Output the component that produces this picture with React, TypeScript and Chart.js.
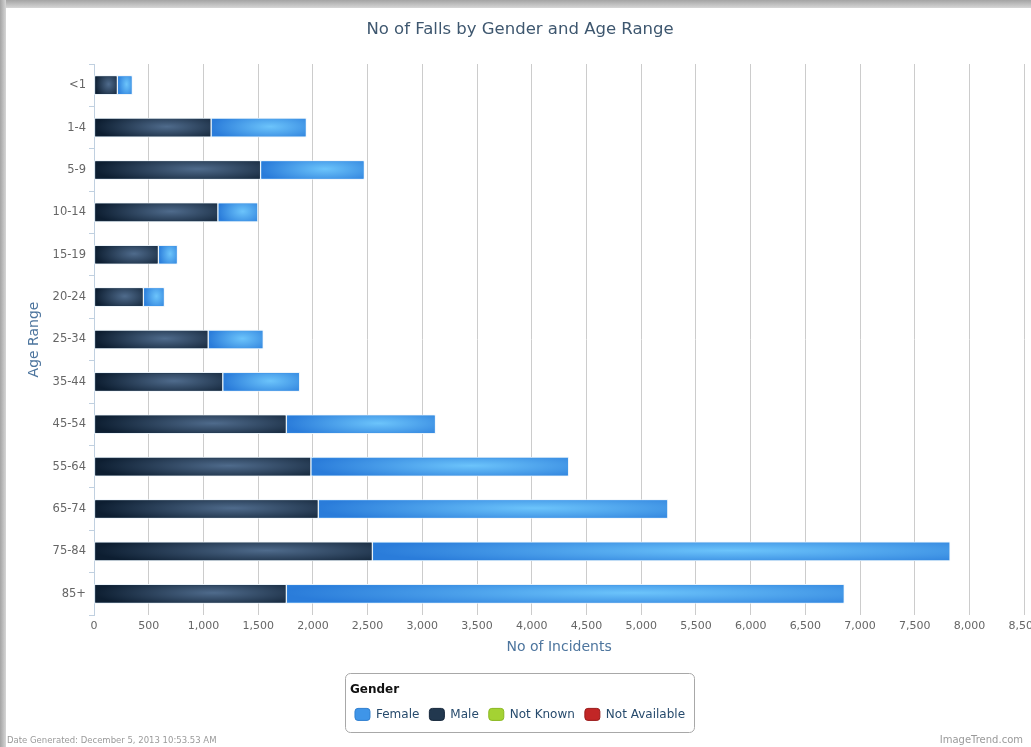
import React, { useEffect, useRef } from "react";
import { Chart, registerables } from "chart.js";

Chart.register(...registerables);

const ageRanges = ["<1", "1-4", "5-9", "10-14", "15-19", "20-24", "25-34", "35-44", "45-54", "55-64", "65-74", "75-84", "85+"];
const maleValues = [213, 1070, 1522, 1132, 588, 451, 1043, 1177, 1757, 1982, 2049, 2543, 1757];
const femaleValues = [137, 870, 948, 365, 174, 192, 503, 702, 1363, 2355, 3194, 5279, 5098];
const notKnownValues: number[] = [];
const notAvailableValues: number[] = [];
const xMax = 8500;
const xStep = 500;

const seriesNames = ["Male", "Female", "Not Known", "Not Available"];
const seriesFill = ["#22384f", "#3f95e8", "#a4d233", "#c22626"];
const seriesSwatchBorder = ["#15263a", "#2f7fd0", "#8ab820", "#9a1a1a"];
const gradientStops: Record<number, [string, string]> = {
  0: ["#4f6b8c", "#0d1e31"],
  1: ["#6cc4fb", "#2a7cda"],
};
const legendOrder = [1, 0, 2, 3];

const barGlowPlugin = {
  id: "barGlow",
  afterDatasetsDraw(chart: any) {
    const ctx = chart.ctx;
    [0, 1].forEach((di) => {
      const meta = chart.getDatasetMeta(di);
      if (!meta || meta.hidden) return;
      const [c0, c1] = gradientStops[di];
      meta.data.forEach((el: any) => {
        const p = el.getProps(["x", "y", "base", "height"], true);
        const l = Math.min(p.x, p.base);
        const r = Math.max(p.x, p.base);
        const w = r - l;
        const h = p.height;
        const t = p.y - h / 2;
        if (w <= 2) return;
        ctx.save();
        ctx.beginPath();
        ctx.rect(l + 1, t + 1, w - 2, h - 2);
        ctx.clip();
        ctx.translate(l + w * 0.62, t + h * 0.45);
        ctx.scale(w * 0.62, h * 0.85);
        const g = ctx.createRadialGradient(0, 0, 0, 0, 0, 1);
        g.addColorStop(0, c0);
        g.addColorStop(1, c1);
        ctx.fillStyle = g;
        ctx.fillRect(-2, -2, 4, 4);
        ctx.restore();
      });
    });
  },
};

const legendFramePlugin = {
  id: "legendFrame",
  afterDraw(chart: any) {
    const lg = chart.legend;
    if (!lg || !lg.legendHitBoxes || !lg.legendHitBoxes.length) return;
    const boxes = lg.legendHitBoxes;
    const first = boxes[0];
    const last = boxes[boxes.length - 1];
    const left = first.left - 10;
    const right = last.left + last.width + 9;
    const titleCenter = lg.top + 28 + 6;
    const top = titleCenter - 17;
    const bottom = first.top + first.height / 2 + 18;
    const ctx = chart.ctx;
    ctx.save();
    ctx.beginPath();
    const rr = 5;
    const x0 = Math.round(left) + 0.5;
    const y0 = Math.round(top) + 0.5;
    const x1 = Math.round(right) + 0.5;
    const y1 = Math.round(bottom) + 0.5;
    ctx.moveTo(x0 + rr, y0);
    ctx.lineTo(x1 - rr, y0);
    ctx.arcTo(x1, y0, x1, y0 + rr, rr);
    ctx.lineTo(x1, y1 - rr);
    ctx.arcTo(x1, y1, x1 - rr, y1, rr);
    ctx.lineTo(x0 + rr, y1);
    ctx.arcTo(x0, y1, x0, y1 - rr, rr);
    ctx.lineTo(x0, y0 + rr);
    ctx.arcTo(x0, y0, x0 + rr, y0, rr);
    ctx.closePath();
    ctx.strokeStyle = "#a8a8a8";
    ctx.lineWidth = 1;
    ctx.stroke();
    ctx.restore();
  },
};

export default function App() {
  const canvasRef = useRef<HTMLCanvasElement | null>(null);

  useEffect(() => {
    if (!canvasRef.current) return;
    Chart.defaults.font.family = '"DejaVu Sans", sans-serif';
    const valueSets = [maleValues, femaleValues, notKnownValues, notAvailableValues];
    const chart = new Chart(canvasRef.current, {
      type: "bar",
      data: {
        labels: ageRanges,
        datasets: valueSets.map((vals, i) => ({
          label: seriesNames[i],
          data: vals,
          backgroundColor: seriesFill[i],
          borderColor: i < 2 ? "rgba(235,243,250,0.95)" : "rgba(0,0,0,0)",
          borderWidth: i < 2 ? 1 : 0,
          borderSkipped: false,
          barThickness: 19,
        })),
      },
      options: {
        indexAxis: "y",
        responsive: false,
        animation: false,
        devicePixelRatio: 1,
        layout: { padding: { left: 12, right: 17, top: 0, bottom: 16.6 } },
        scales: {
          x: {
            type: "linear",
            stacked: true,
            min: 0,
            max: xMax,
            grid: { color: "#cccccc", drawTicks: false, lineWidth: 1 },
            border: { display: false },
            ticks: {
              stepSize: xStep,
              padding: 5,
              color: "#666666",
              font: { size: 11 },
              callback: (v: any) => Number(v).toLocaleString("en-US"),
            },
            title: {
              display: true,
              text: "No of Incidents",
              color: "#4d759e",
              font: { size: 14 },
              padding: { top: 1, bottom: 0 },
            },
          },
          y: {
            type: "category",
            stacked: true,
            grid: {
              display: true,
              drawOnChartArea: false,
              drawTicks: true,
              tickLength: 5,
              color: "#C0D0E0",
              offset: true,
            },
            border: { display: true, color: "#C0D0E0" },
            ticks: { color: "#666666", font: { size: 11.5 }, padding: 3 },
            title: {
              display: true,
              text: "Age Range",
              color: "#4d759e",
              font: { size: 14 },
              padding: { top: 13.6, bottom: 0 },
            },
            afterFit: (s: any) => {
              s.width = 82;
            },
          },
        },
        plugins: {
          title: {
            display: true,
            text: "No of Falls by Gender and Age Range",
            color: "#3E576F",
            font: { size: 16.5, weight: "normal" },
            padding: { top: 20, bottom: 24.2 },
          },
          tooltip: { enabled: false },
          legend: {
            display: true,
            position: "bottom",
            title: {
              display: true,
              text: "Gender",
              position: "start",
              color: "#111111",
              font: { size: 12, weight: "bold" },
              padding: { top: 28, bottom: 0 },
            },
            labels: {
              boxWidth: 15,
              boxHeight: 12,
              padding: 10,
              color: "#274b6d",
              font: { size: 12 },
              useBorderRadius: true,
              borderRadius: 3,
              generateLabels: (c: any) =>
                legendOrder.map((i) => ({
                  text: c.data.datasets[i].label,
                  fillStyle: seriesFill[i],
                  strokeStyle: seriesSwatchBorder[i],
                  lineWidth: 1,
                  hidden: !c.isDatasetVisible(i),
                  datasetIndex: i,
                  borderRadius: 3,
                  fontColor: "#274b6d",
                })),
            },
          },
        },
      } as any,
      plugins: [barGlowPlugin, legendFramePlugin],
    });
    return () => chart.destroy();
  }, []);

  return (
    <div
      style={{
        position: "fixed",
        left: 0,
        top: 0,
        width: 1031,
        height: 747,
        overflow: "hidden",
        background: "#ffffff",
      }}
    >
      <div
        style={{
          position: "absolute",
          left: 0,
          top: 0,
          width: "100%",
          height: 8,
          background: "linear-gradient(to bottom, #a4a4a4, #d6d6d6)",
        }}
      />
      <div
        style={{
          position: "absolute",
          left: 0,
          top: 0,
          width: 6,
          height: "100%",
          background: "linear-gradient(to right, #a4a4a4, #d6d6d6)",
        }}
      />
      <canvas
        ref={canvasRef}
        width={1045}
        height={747}
        style={{ position: "absolute", left: 0, top: 0, width: 1045, height: 747, display: "block" }}
      />
      <div
        style={{
          position: "absolute",
          left: 7,
          top: 734,
          fontFamily: '"DejaVu Sans", sans-serif',
          fontSize: 8.5,
          color: "#9a9a9a",
          lineHeight: "12px",
          whiteSpace: "nowrap",
        }}
      >
        Date Generated: December 5, 2013 10:53.53 AM
      </div>
      <div
        style={{
          position: "absolute",
          right: 8,
          top: 734,
          fontFamily: '"DejaVu Sans", sans-serif',
          fontSize: 10,
          color: "#9a9a9a",
          lineHeight: "12px",
          whiteSpace: "nowrap",
        }}
      >
        ImageTrend.com
      </div>
    </div>
  );
}
